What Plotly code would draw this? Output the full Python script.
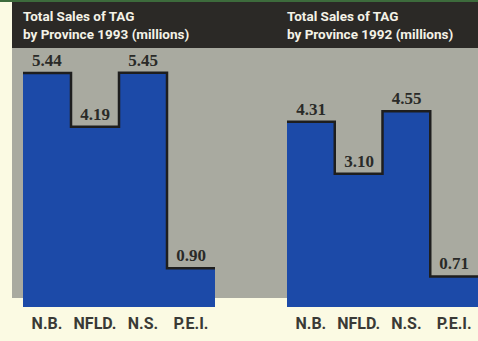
import plotly.graph_objects as go

provinces = ["N.B.", "NFLD.", "N.S.", "P.E.I."]
sales_1993 = [5.44, 4.19, 5.45, 0.90]
sales_1992 = [4.31, 3.10, 4.55, 0.71]
title_1993 = "Total Sales of TAG<br>by Province 1993 (millions)"
title_1992 = "Total Sales of TAG<br>by Province 1992 (millions)"

W, H = 478, 341
B = 34  # bottom margin (baseline position)
PH = H - B
PX_PER_UNIT = 43.0

CREAM = "#fbfae3"
GRAY = "#a9aaa0"
HEADER = "#2b2926"
BLUE = "#1c4aa8"
DARK = "#1e1e1e"
TEXT = "#3a3a36"

def py(p):  # pixel-from-top -> paper y
    return (PH - p) / PH

def px(p):
    return p / W

fig = go.Figure()
idx = list(range(len(provinces)))

for vals, xa in [(sales_1993, "x"), (sales_1992, "x2")]:
    fig.add_trace(go.Bar(
        x=idx, y=vals, xaxis=xa, yaxis="y", width=1.0,
        marker=dict(color=BLUE, line=dict(width=0)),
        text=[f"{v:.2f}" for v in vals], textposition="outside",
        textfont=dict(family="Liberation Serif, DejaVu Serif, serif", size=17,
                      color="#2a2a28", weight="bold"),
        cliponaxis=False, showlegend=False, hoverinfo="skip",
    ))
    step_x = [i - 0.5 for i in idx] + [idx[-1] + 0.5]
    step_y = list(vals) + [vals[-1]]
    fig.add_trace(go.Scatter(
        x=step_x, y=step_y, xaxis=xa, yaxis="y", mode="lines",
        line=dict(color=DARK, width=2.5, shape="hv"),
        showlegend=False, hoverinfo="skip", cliponaxis=False,
    ))

shapes = [
    dict(type="rect", xref="paper", yref="paper", x0=px(12), x1=1, y0=py(298), y1=py(48),
         fillcolor=GRAY, line=dict(width=0), layer="below"),
    dict(type="rect", xref="paper", yref="paper", x0=px(12), x1=1, y0=py(48), y1=py(0),
         fillcolor=HEADER, line=dict(width=0), layer="below"),
    dict(type="rect", xref="paper", yref="paper", x0=0, x1=1, y0=py(2), y1=py(0),
         fillcolor="#3d6b3c", line=dict(width=0), layer="below"),
]

title_font = dict(family="Roboto, sans-serif", size=13.5, color="#f4f2e6", weight="bold")
annotations = [
    dict(text=title_1993, xref="paper", yref="paper", x=px(21), y=py(6), xanchor="left",
         yanchor="top", align="left", showarrow=False, font=title_font),
    dict(text=title_1992, xref="paper", yref="paper", x=px(285), y=py(6), xanchor="left",
         yanchor="top", align="left", showarrow=False, font=title_font),
]

tickfont = dict(family="Roboto, sans-serif", size=16, color=TEXT, weight="bold")
axis_common = dict(range=[-0.5, 3.5], tickvals=idx, ticktext=provinces, showgrid=False,
                   zeroline=False, showline=False, ticks="", tickfont=tickfont,
                   ticklabelstandoff=5, fixedrange=True)

fig.update_layout(
    width=W, height=H,
    margin=dict(l=0, r=0, t=0, b=B, pad=0),
    paper_bgcolor=CREAM, plot_bgcolor="rgba(0,0,0,0)",
    xaxis=dict(domain=[px(23), px(215)], **axis_common),
    xaxis2=dict(domain=[px(287), 1.0], anchor="y", **axis_common),
    yaxis=dict(range=[0, PH / PX_PER_UNIT], visible=False, fixedrange=True),
    bargap=0, shapes=shapes, annotations=annotations,
)

fig.write_html("out.html", config={"displayModeBar": False})
